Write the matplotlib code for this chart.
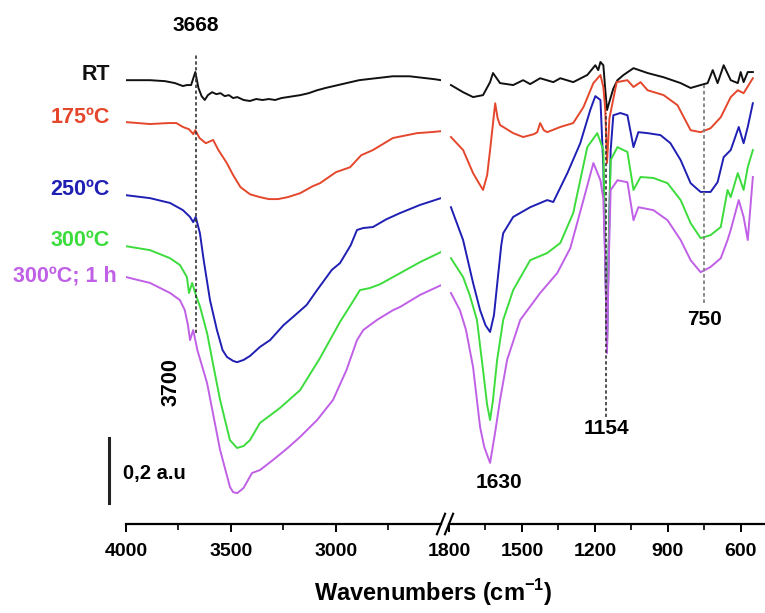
import matplotlib
matplotlib.use("Agg")
import matplotlib.pyplot as plt

plt.rcParams['font.family'] = ['Liberation Sans', 'DejaVu Sans']
plt.rcParams['font.weight'] = 'bold'
plt.rcParams['mathtext.fontset'] = 'custom'
plt.rcParams['mathtext.rm'] = 'Liberation Sans:bold'
plt.rcParams['mathtext.bf'] = 'Liberation Sans:bold'

# ---- spectra, high wavenumber part (4000-2500 cm-1), absorbance in a.u. ----
rt_wn_hi = [4000, 3886, 3814, 3767, 3729, 3710, 3690, 3670, 3655, 3640, 3625, 3610, 3590, 3570, 3550,
            3530, 3510, 3490, 3470, 3440, 3410, 3380, 3350, 3320, 3290, 3260, 3230, 3200, 3170, 3130,
            3090, 3050, 3010, 2970, 2930, 2890, 2850, 2810, 2770, 2730, 2690, 2650, 2610, 2570, 2530, 2500]
rt_hi = [1.366, 1.366, 1.363, 1.357, 1.348, 1.351, 1.351, 1.391, 1.342, 1.317, 1.305, 1.320, 1.329, 1.323, 1.326,
         1.317, 1.320, 1.311, 1.314, 1.305, 1.302, 1.308, 1.305, 1.308, 1.305, 1.311, 1.314, 1.317, 1.320, 1.326,
         1.335, 1.342, 1.348, 1.354, 1.360, 1.366, 1.369, 1.372, 1.375, 1.378, 1.378, 1.378, 1.375, 1.372, 1.369, 1.366]

t175_wn_hi = [4000, 3886, 3800, 3760, 3729, 3700, 3680, 3670, 3650, 3620, 3585, 3560, 3520, 3490, 3455, 3410,
              3362, 3320, 3276, 3230, 3171, 3110, 3076, 3000, 2933, 2880, 2824, 2729, 2614, 2550, 2500]
t175_hi = [1.237, 1.231, 1.234, 1.234, 1.222, 1.215, 1.200, 1.212, 1.188, 1.172, 1.182, 1.151, 1.111, 1.074, 1.037, 1.015,
           1.006, 1.000, 1.000, 1.006, 1.018, 1.040, 1.049, 1.083, 1.098, 1.135, 1.151, 1.188, 1.203, 1.206, 1.209]

t250_wn_hi = [4000, 3886, 3790, 3729, 3695, 3680, 3668, 3648, 3630, 3600, 3567, 3540, 3519, 3490, 3471, 3440, 3410,
              3362, 3314, 3250, 3205, 3140, 3090, 3020, 2981, 2930, 2900, 2870, 2824, 2760, 2695, 2600, 2500]
t250_hi = [1.012, 1.003, 0.988, 0.966, 0.945, 0.929, 0.945, 0.895, 0.812, 0.689, 0.597, 0.535, 0.514, 0.502, 0.498, 0.505, 0.517,
           0.545, 0.566, 0.612, 0.637, 0.674, 0.720, 0.782, 0.803, 0.858, 0.905, 0.911, 0.914, 0.938, 0.957, 0.982, 1.003]

t300_wn_hi = [4000, 3886, 3790, 3743, 3710, 3700, 3685, 3665, 3648, 3614, 3580, 3552, 3505, 3471, 3440, 3410, 3362,
              3267, 3171, 3076, 2981, 2930, 2886, 2840, 2790, 2695, 2600, 2500]
t300_hi = [0.855, 0.843, 0.818, 0.797, 0.760, 0.711, 0.742, 0.700, 0.670, 0.588, 0.474, 0.382, 0.258, 0.234, 0.240, 0.258, 0.311,
           0.357, 0.412, 0.511, 0.622, 0.674, 0.720, 0.726, 0.738, 0.772, 0.806, 0.837]

t300h_wn_hi = [4000, 3886, 3790, 3743, 3720, 3705, 3695, 3680, 3660, 3614, 3552, 3505, 3490, 3470, 3440, 3400, 3362,
               3300, 3230, 3171, 3090, 3014, 2950, 2900, 2870, 2805, 2729, 2695, 2600, 2500]
t300h_hi = [0.760, 0.742, 0.711, 0.689, 0.658, 0.612, 0.566, 0.597, 0.535, 0.434, 0.228, 0.114, 0.098, 0.095, 0.111, 0.157, 0.166,
            0.197, 0.234, 0.268, 0.320, 0.382, 0.474, 0.566, 0.597, 0.628, 0.658, 0.668, 0.705, 0.735]

# ---- low wavenumber part (1800-550 cm-1) ----
rt_wn_lo = [1792, 1742, 1701, 1660, 1631, 1619, 1590, 1536, 1495, 1466, 1425, 1371, 1342, 1289, 1231, 1198, 1186,
            1177, 1165, 1158, 1150, 1138, 1124, 1107, 1082, 1041, 983, 917, 847, 806, 765, 736, 715, 695, 670,
            641, 612, 600, 588, 571, 550]
rt_lo = [1.351, 1.329, 1.314, 1.320, 1.360, 1.388, 1.357, 1.351, 1.366, 1.354, 1.372, 1.360, 1.372, 1.360, 1.382, 1.412, 1.397,
         1.422, 1.412, 1.345, 1.274, 1.305, 1.340, 1.366, 1.382, 1.403, 1.388, 1.375, 1.357, 1.342, 1.351, 1.357, 1.397, 1.357, 1.412,
         1.366, 1.357, 1.391, 1.360, 1.391, 1.391]

t175_wn_lo = [1792, 1742, 1701, 1672, 1660, 1643, 1631, 1610, 1600, 1590, 1536, 1495, 1450, 1437, 1425, 1410, 1396,
              1342, 1289, 1247, 1206, 1177, 1165, 1157, 1150, 1140, 1110, 1066, 1041, 1012, 983, 917, 860, 806, 765,
              724, 682, 641, 612, 588, 550]
t175_lo = [1.191, 1.151, 1.080, 1.043, 1.028, 1.074, 1.151, 1.295, 1.249, 1.228, 1.203, 1.191, 1.200, 1.206, 1.234, 1.212, 1.206,
           1.222, 1.234, 1.283, 1.357, 1.382, 1.345, 1.274, 1.111, 1.249, 1.360, 1.366, 1.345, 1.360, 1.335, 1.320, 1.289, 1.212, 1.206,
           1.218, 1.252, 1.314, 1.335, 1.326, 1.372]

t250_wn_lo = [1792, 1742, 1701, 1672, 1650, 1631, 1615, 1600, 1585, 1577, 1536, 1466, 1396, 1371, 1313, 1260, 1219,
              1198, 1177, 1165, 1157, 1150, 1143, 1135, 1124, 1095, 1066, 1041, 1021, 983, 930, 889, 847, 806, 765,
              724, 695, 670, 641, 608, 588, 571, 550]
t250_lo = [0.975, 0.874, 0.742, 0.658, 0.612, 0.591, 0.643, 0.751, 0.858, 0.895, 0.945, 0.975, 0.997, 0.991, 1.080, 1.172, 1.274,
           1.317, 1.305, 1.098, 0.800, 0.545, 0.850, 1.150, 1.258, 1.265, 1.258, 1.160, 1.206, 1.203, 1.197, 1.172, 1.120, 1.049, 1.022,
           1.022, 1.052, 1.129, 1.151, 1.222, 1.172, 1.222, 1.295]

t300_wn_lo = [1792, 1742, 1715, 1685, 1660, 1643, 1631, 1619, 1602, 1577, 1536, 1466, 1396, 1342, 1289, 1231, 1190,
              1165, 1157, 1150, 1143, 1135, 1107, 1066, 1041, 1012, 959, 901, 847, 806, 765, 724, 682, 654, 641,
              612, 588, 571, 550]
t300_lo = [0.818, 0.760, 0.705, 0.628, 0.474, 0.366, 0.320, 0.382, 0.505, 0.628, 0.720, 0.812, 0.834, 0.865, 0.957, 1.160, 1.203,
           1.151, 0.850, 0.550, 0.850, 1.120, 1.160, 1.145, 1.028, 1.068, 1.065, 1.049, 0.997, 0.926, 0.880, 0.889, 0.914, 1.028, 1.006,
           1.080, 1.028, 1.098, 1.151]

t300h_wn_lo = [1792, 1755, 1730, 1701, 1672, 1655, 1631, 1610, 1590, 1561, 1507, 1425, 1355, 1301, 1247, 1206, 1177,
               1165, 1157, 1150, 1143, 1135, 1107, 1066, 1041, 1021, 959, 901, 847, 806, 765, 724, 682, 654, 641,
               608, 588, 571, 550]
t300h_lo = [0.711, 0.658, 0.597, 0.483, 0.298, 0.237, 0.188, 0.283, 0.382, 0.505, 0.628, 0.711, 0.772, 0.849, 0.997, 1.111, 1.058,
            1.000, 0.800, 0.526, 0.800, 1.028, 1.058, 1.052, 0.935, 0.975, 0.966, 0.935, 0.874, 0.812, 0.775, 0.791, 0.818, 0.874, 0.905,
            0.997, 0.945, 0.874, 1.068]

labels = ['RT', '175ºC', '250ºC', '300ºC', '300ºC; 1 h']
colors = ['#111111', '#e4472c', '#1f1fb4', '#3ddc3d', '#c060e6']
label_y = [1.385, 1.252, 1.031, 0.874, 0.763]
label_x = [4076, 4076, 4076, 4076, 4043]

W, H = 765, 613
fig = plt.figure(figsize=(W / 100, H / 100), dpi=100)


def box(x0, x1, ytop, ybot):
    return [x0 / W, 1 - ybot / H, (x1 - x0) / W, (ybot - ytop) / H]


ax1 = fig.add_axes(box(126, 441, 10, 524))
ax2 = fig.add_axes(box(449, 765, 10, 524))

hi = [(rt_wn_hi, rt_hi), (t175_wn_hi, t175_hi), (t250_wn_hi, t250_hi), (t300_wn_hi, t300_hi), (t300h_wn_hi, t300h_hi)]
lo = [(rt_wn_lo, rt_lo), (t175_wn_lo, t175_lo), (t250_wn_lo, t250_lo), (t300_wn_lo, t300_lo), (t300h_wn_lo, t300h_lo)]
for (x, y), c in zip(hi, colors):
    ax1.plot(x, y, color=c, lw=1.4)
for (x, y), c in zip(lo, colors):
    ax2.plot(x, y, color=c, lw=1.4)

for ax in (ax1, ax2):
    ax.set_ylim(0, 1.582)
    for s in ('left', 'right', 'top'):
        ax.spines[s].set_visible(False)
    ax.spines['bottom'].set_linewidth(1.6)
    ax.set_yticks([])
    ax.tick_params(axis='x', which='major', direction='out', length=6, width=1.4, labelsize=14, pad=8)
    ax.tick_params(axis='x', which='minor', direction='out', length=4, width=1.2)
    ax.patch.set_visible(False)

ax1.set_xlim(4000, 2500)
ax1.set_xticks([4000, 3500, 3000])
ax1.set_xticks([3750, 3250, 2750], minor=True)
ax2.set_xlim(1800, 500)
ax2.set_xticks([1800, 1500, 1200, 900, 600])
ax2.set_xticks([1650, 1350, 1050, 750], minor=True)

# axis break marks
for ax, xa in ((ax1, 1.0), (ax2, 0.0)):
    ax.plot([xa - 0.013, xa + 0.013], [-0.02, 0.02], transform=ax.transAxes, color='k', lw=1.5, clip_on=False)

# sample names
for t, c, x, y in zip(labels, colors, label_x, label_y):
    ax1.text(x, y, t, color=c, ha='right', va='center', fontsize=15.5, clip_on=False)

# scale bar
ax1.plot([4081, 4081], [0.065, 0.265], color='#222222', lw=2.2, clip_on=False)
ax1.text(4014, 0.154, '0,2 a.u', ha='left', va='center', fontsize=14.5)

# band markers
dash = dict(color='#333333', lw=1.2, ls=(0, (2, 1.5)))
ax1.plot([3668, 3668], [0.588, 1.449], **dash)
ax1.text(3668, 1.535, '3668', ha='center', va='center', fontsize=15)
ax1.text(3786, 0.437, '3700', ha='center', va='center', rotation=90, fontsize=15.5)
ax2.plot([1154, 1154], [0.329, 1.265], **dash)
ax2.text(1154, 0.295, '1154', ha='center', va='center', fontsize=15)
ax2.text(1596, 0.129, '1630', ha='center', va='center', fontsize=15)
ax2.plot([750, 750], [0.680, 1.351], color='#808080', lw=1.3, ls=(0, (2, 1.5)))
ax2.text(750, 0.628, '750', ha='center', va='center', fontsize=15)

fig.text(433 / W, 1 - 593 / H, r'Wavenumbers (cm$^{\mathbf{-1}}$)', ha='center', va='center', fontsize=17)

fig.savefig('out.png', dpi=100)
